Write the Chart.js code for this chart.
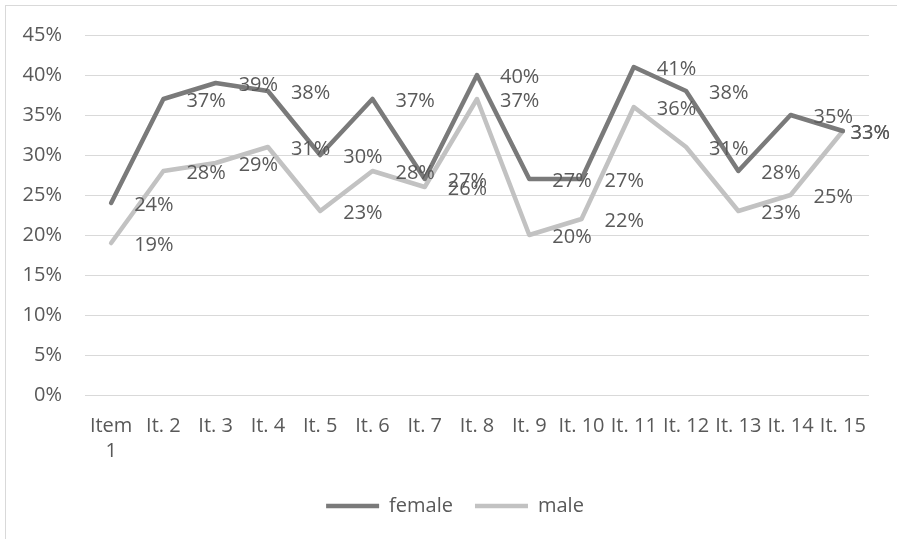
<!DOCTYPE html>
<html>
<head>
<meta charset="utf-8">
<script src="https://cdn.jsdelivr.net/npm/chart.js@4/dist/chart.umd.min.js"></script>
<style>
  html, body { margin: 0; padding: 0; background: #fff; }
  #wrap { position: relative; width: 897px; height: 539px; overflow: hidden; }
  #frame { position: absolute; left: 5px; top: 5px; width: 1000px; height: 1000px;
           border-left: 1px solid #d9d9d9; border-top: 1px solid #d9d9d9; }
  canvas { position: absolute; left: 0; top: 0; }
</style>
</head>
<body>
<div id="wrap">
  <div id="frame"></div>
  <canvas id="chart" width="897" height="539"></canvas>
</div>
<script>
const items = [["Item", "1"], "It. 2", "It. 3", "It. 4", "It. 5", "It. 6", "It. 7", "It. 8",
               "It. 9", "It. 10", "It. 11", "It. 12", "It. 13", "It. 14", "It. 15"];
const female = [24, 37, 39, 38, 30, 37, 27, 40, 27, 27, 41, 38, 28, 35, 33];
const male = [19, 28, 29, 31, 23, 28, 26, 37, 20, 22, 36, 31, 23, 25, 33];
const yTicks = [0, 5, 10, 15, 20, 25, 30, 35, 40, 45];

const textColor = "#595959";
const font = { family: "'Open Sans', sans-serif", size: 20 };

// value labels to the right of each point, pushed back inside at the right edge
const pointLabels = {
  id: "pointLabels",
  afterLayout(chart) {
    // legend sits a bit right of the canvas centre in the original
    if (chart.legend) chart.legend.left = 41;
  },
  afterDatasetsDraw(chart) {
    const ctx = chart.ctx;
    ctx.save();
    ctx.font = `${font.size}px ${font.family}`;
    ctx.fillStyle = textColor;
    ctx.textAlign = "left";
    ctx.textBaseline = "middle";
    chart.data.datasets.forEach((ds, i) => {
      chart.getDatasetMeta(i).data.forEach((pt, j) => {
        const txt = ds.data[j] + "%";
        const w = ctx.measureText(txt).width;
        const x = Math.min(pt.x + 23, chart.width - 7 - w);
        ctx.fillText(txt, x, pt.y + 2);
      });
    });
    ctx.restore();
  }
};

new Chart(document.getElementById("chart"), {
  type: "line",
  data: {
    labels: items,
    datasets: [
      { label: "female", data: female, borderColor: "#7a7a7a", backgroundColor: "#7a7a7a",
        borderWidth: 4.5, pointRadius: 0, borderJoinStyle: "round", borderCapStyle: "round" },
      { label: "male", data: male, borderColor: "#c2c2c2", backgroundColor: "#c2c2c2",
        borderWidth: 4.5, pointRadius: 0, borderJoinStyle: "round", borderCapStyle: "round" }
    ]
  },
  options: {
    responsive: false,
    animation: false,
    layout: { padding: { top: 34, right: 28, bottom: 13, left: 0 } },
    plugins: {
      tooltip: { enabled: false },
      legend: {
        position: "bottom",
        labels: {
          usePointStyle: true,
          pointStyle: "line",
          pointStyleWidth: 53,
          padding: 22,
          color: textColor,
          font: font
        }
      }
    },
    scales: {
      x: {
        offset: true,
        grid: { display: false },
        border: { display: false },
        ticks: { color: textColor, font: { ...font, lineHeight: 1.25 }, padding: 11,
                 maxRotation: 0, autoSkip: false },
        afterFit(scale) { scale.height = 79; }
      },
      y: {
        min: 0,
        max: 45,
        afterBuildTicks(scale) { scale.ticks = yTicks.map(v => ({ value: v })); },
        grid: { color: "#d9d9d9", lineWidth: 1, drawTicks: false },
        border: { display: false },
        ticks: { color: textColor, font: font, padding: 23, callback: v => v + "%" },
        afterFit(scale) { scale.width = 85; }
      }
    }
  },
  plugins: [pointLabels]
});
</script>
</body>
</html>
